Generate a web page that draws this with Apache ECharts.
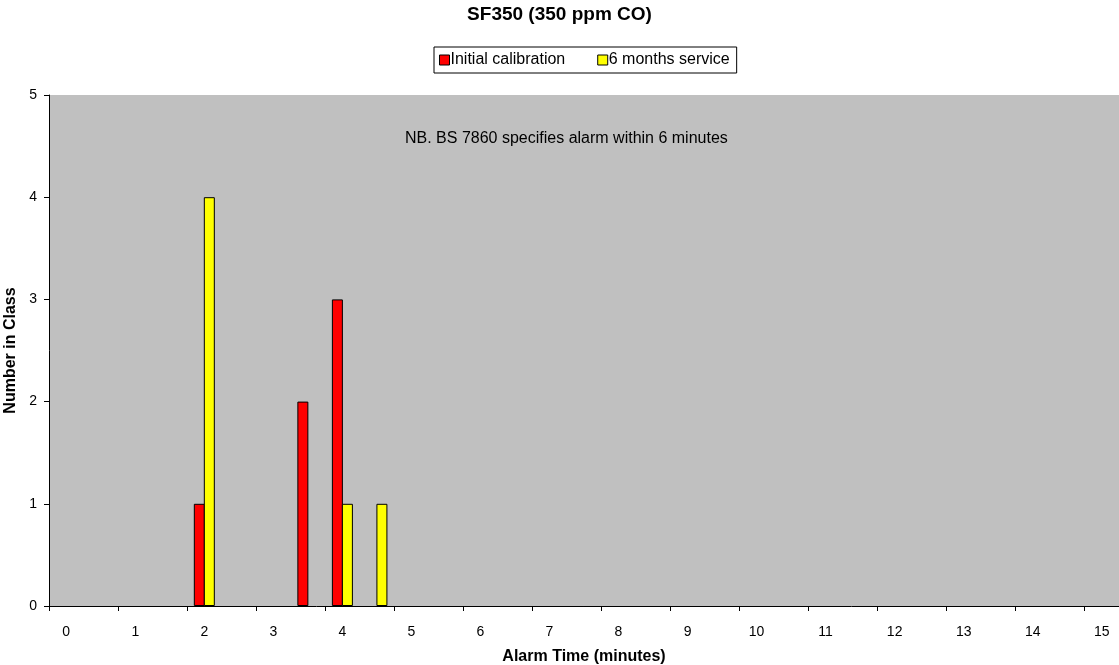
<!DOCTYPE html>
<html>
<head>
<meta charset="utf-8">
<script src="https://cdn.jsdelivr.net/npm/echarts@6/dist/echarts.min.js"></script>
<style>html,body{margin:0;padding:0;background:#fff;}#c{width:1119px;height:665px;}</style>
</head>
<body>
<div id="c"></div>
<script>
// Half-minute bins 0 .. 15 minutes
const categories = ['0','0.5','1','1.5','2','2.5','3','3.5','4','4.5','5','5.5','6','6.5','7','7.5','8','8.5','9','9.5','10','10.5','11','11.5','12','12.5','13','13.5','14','14.5','15'];
const initialCalibration = [0,0,0,0,1,0,0,2,3,0,0,0,0,0,0,0,0,0,0,0,0,0,0,0,0,0,0,0,0,0,0];
const sixMonthsService  = [0,0,0,0,4,0,0,0,1,1,0,0,0,0,0,0,0,0,0,0,0,0,0,0,0,0,0,0,0,0,0];
const yTicks = [0,1,2,3,4,5];

const F = 'Liberation Sans, Arial, sans-serif';
const hideZero = arr => arr.map(v => (v === 0 ? null : v));
const chart = echarts.init(document.getElementById('c'));
chart.setOption({
  animation: false,
  backgroundColor: '#ffffff',
  title: {
    text: 'SF350 (350 ppm CO)',
    left: 'center', top: 5, padding: 0,
    textStyle: { fontFamily: F, fontSize: 19, fontWeight: 'bold', color: '#000' }
  },
  legend: {
    top: 47, left: 434,
    itemWidth: 10, itemHeight: 10, itemGap: 32,
    padding: [5, 7, 5, 5],
    borderColor: '#000', borderWidth: 1, borderRadius: 0,
    backgroundColor: '#fff',
    icon: 'rect',
    textStyle: { fontFamily: F, fontSize: 16, color: '#000', padding: [0,0,0,-4] },
    data: [
      { name: 'Initial calibration', itemStyle: { color: '#ff0000', borderColor: '#000', borderWidth: 1 } },
      { name: '6 months service', itemStyle: { color: '#ffff00', borderColor: '#000', borderWidth: 1 } }
    ]
  },
  grid: { left: 49, right: 0, top: 95, bottom: 59, show: true, backgroundColor: '#c0c0c0', borderWidth: 0,
          containLabel: false, outerBoundsMode: 'none' },
  graphic: [{
    type: 'text', left: 405, top: 131,
    style: { text: 'NB. BS 7860 specifies alarm within 6 minutes', font: '16px ' + F, fill: '#000' }
  }],
  xAxis: {
    type: 'category',
    data: categories,
    boundaryGap: true,
    name: 'Alarm Time (minutes)',
    nameLocation: 'middle', nameGap: 43,
    nameTextStyle: { fontFamily: F, fontSize: 16, fontWeight: 'bold', color: '#000' },
    axisLine: { lineStyle: { color: '#000', width: 1 } },
    axisTick: { show: true, interval: 1, length: 5, lineStyle: { color: '#000' } },
    axisLabel: { interval: 1, fontFamily: F, fontSize: 14, color: '#000', margin: 19 },
    splitLine: { show: false }
  },
  yAxis: {
    type: 'value',
    min: 0, max: 5, interval: 1,
    name: 'Number in Class',
    nameLocation: 'middle', nameGap: 30, nameRotate: 90,
    nameTextStyle: { fontFamily: F, fontSize: 16, fontWeight: 'bold', color: '#000' },
    axisLine: { show: true, lineStyle: { color: '#000', width: 1 } },
    axisTick: { show: true, length: 5, lineStyle: { color: '#000' } },
    axisLabel: { fontFamily: F, fontSize: 14, color: '#000', margin: 12, formatter: v => yTicks.includes(v) ? String(v) : '' },
    splitLine: { show: false }
  },
  series: [
    { name: 'Initial calibration', type: 'bar', data: hideZero(initialCalibration), barWidth: 11, barGap: '-9%',
      itemStyle: { color: '#ff0000', borderColor: '#000', borderWidth: 1 } },
    { name: '6 months service', type: 'bar', data: hideZero(sixMonthsService), barWidth: 11, barGap: '-9%',
      itemStyle: { color: '#ffff00', borderColor: '#000', borderWidth: 1 } }
  ]
});
</script>
</body>
</html>
